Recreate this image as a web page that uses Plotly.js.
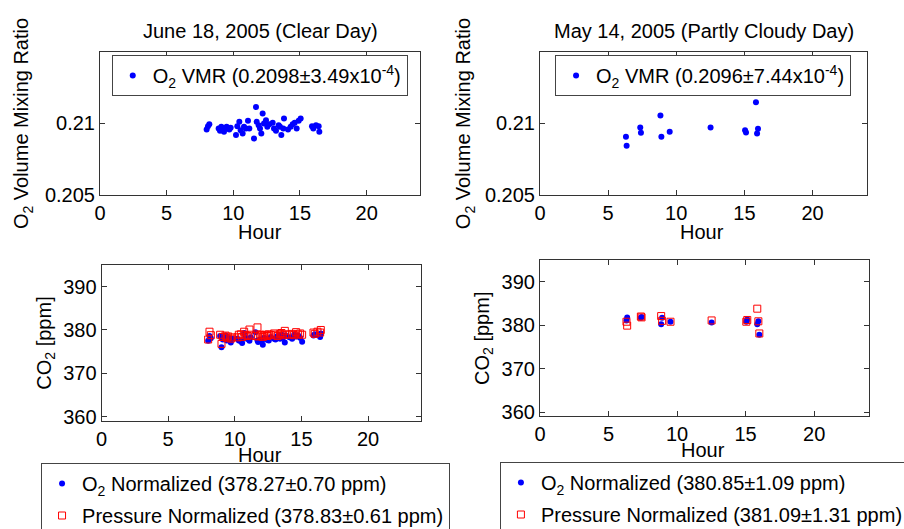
<!DOCTYPE html>
<html>
<head>
<meta charset="utf-8">
<script src="https://cdn.plot.ly/plotly-3.0.1.min.js"></script>
<style>html,body{margin:0;padding:0;background:#fff;}#chart{width:904px;height:529px;}</style>
</head>
<body>
<div id="chart"></div>
<script>
// ---------- DATA ----------
// June 18, 2005 (Clear Day)
const clearHours = [8.0, 8.1, 8.2, 8.9, 9.0, 9.1, 9.3, 9.4, 9.5, 9.7, 9.8, 10.2, 10.3, 10.45, 10.55, 10.7, 10.8, 10.95, 11.1, 11.2, 11.55, 11.7, 11.75, 11.9, 12.0, 12.1, 12.2, 12.3, 12.45, 12.55, 12.7, 12.95, 13.05, 13.2, 13.4, 13.5, 13.6, 13.75, 13.8, 14.1, 14.3, 14.45, 14.6, 14.75, 14.9, 15.05, 15.9, 16.0, 16.2, 16.4, 16.45];
const clearO2 = [0.20958, 0.20981, 0.20995, 0.20965, 0.20949, 0.20977, 0.20942, 0.20965, 0.20977, 0.20958, 0.20970, 0.20919, 0.20981, 0.21012, 0.20953, 0.20930, 0.20977, 0.20965, 0.21019, 0.20965, 0.20895, 0.21116, 0.21012, 0.20988, 0.20965, 0.20930, 0.21070, 0.21000, 0.21023, 0.20977, 0.20995, 0.21005, 0.20965, 0.20949, 0.20988, 0.20977, 0.20919, 0.20965, 0.21035, 0.20958, 0.20977, 0.20995, 0.21005, 0.20965, 0.21019, 0.21035, 0.20981, 0.20965, 0.20988, 0.20981, 0.20942];
const clearCO2O2 = [377.5, 378.6, 378.1, 378.6, 376.0, 377.8, 378.7, 377.6, 378.2, 377.1, 378.0, 378.0, 377.6, 377.4, 377.0, 379.3, 378.2, 377.9, 377.5, 378.3, 379.5, 377.6, 377.2, 377.8, 377.4, 376.6, 378.2, 377.9, 377.7, 377.6, 378.4, 378.0, 377.8, 378.6, 378.0, 378.9, 378.2, 377.1, 378.7, 378.3, 378.0, 378.9, 378.5, 378.7, 378.2, 377.3, 378.7, 379.0, 378.9, 378.4, 379.2];
const clearCO2P = [377.8, 379.6, 378.8, 378.9, 376.8, 378.4, 378.7, 378.2, 378.5, 378.0, 378.3, 378.3, 378.9, 379.0, 378.4, 379.6, 378.8, 378.6, 380.1, 378.9, 378.6, 380.6, 378.5, 378.9, 378.8, 378.4, 378.7, 378.9, 378.6, 379.0, 378.8, 379.2, 378.9, 378.6, 379.1, 379.3, 378.8, 379.8, 379.0, 378.9, 379.1, 378.8, 379.5, 379.0, 379.2, 378.9, 379.4, 379.1, 379.6, 379.4, 380.0];

// May 14, 2005 (Partly Cloudy Day)
const cloudyHours = [6.31, 6.36, 7.36, 7.41, 8.84, 8.91, 9.52, 12.52, 15.05, 15.12, 15.85, 15.93, 16.0];
const cloudyO2 = [0.20907, 0.20844, 0.20972, 0.20935, 0.21056, 0.20907, 0.20942, 0.20972, 0.20953, 0.20937, 0.21149, 0.20930, 0.20963];
const cloudyCO2O2 = [381.1, 381.8, 381.7, 381.9, 380.2, 381.7, 380.8, 380.6, 380.8, 381.3, 380.2, 380.9, 377.8];
const cloudyCO2P = [380.8, 379.9, 382.0, 381.8, 382.1, 381.0, 380.8, 381.1, 380.8, 381.2, 383.8, 380.9, 378.1];

// Labels
const panelTitles = ["June 18, 2005 (Clear Day)", "May 14, 2005 (Partly Cloudy Day)"];
const xTitle = "Hour";
const vmrTitle = "O<sub>2</sub> Volume Mixing Ratio";
const co2Title = "CO<sub>2</sub> [ppm]";
const o2VmrNames = ["O<sub>2</sub> VMR (0.2098±3.49x10<sup>-4</sup>)", "O<sub>2</sub> VMR (0.2096±7.44x10<sup>-4</sup>)"];
const o2NormNames = ["O<sub>2</sub> Normalized (378.27±0.70 ppm)", "O<sub>2</sub> Normalized (380.85±1.09 ppm)"];
const presNormNames = ["Pressure Normalized (378.83±0.61 ppm)", "Pressure Normalized (381.09±1.31 ppm)"];
const vmrTickVals = [0.205, 0.21];
const vmrTickText = ["0.205", "0.21"];
const co2TickVals = [360, 370, 380, 390];
const hourTickVals = [0, 5, 10, 15, 20];

// ---------- STYLE ----------
const FONT = "Liberation Sans, Arial, Helvetica, sans-serif";
const FS = 20;
const blueDot = {color: "#0000ff", size: 6, symbol: "circle"};
const redSq = {color: "#ff0000", size: 7, symbol: "square-open", line: {color: "#ff0000", width: 1}};

const traces = [
  {x: clearHours, y: clearO2, type: "scatter", mode: "markers", name: o2VmrNames[0], marker: blueDot, xaxis: "x", yaxis: "y", legend: "legend"},
  {x: cloudyHours, y: cloudyO2, type: "scatter", mode: "markers", name: o2VmrNames[1], marker: blueDot, xaxis: "x2", yaxis: "y2", legend: "legend2"},
  {x: clearHours, y: clearCO2O2, type: "scatter", mode: "markers", name: o2NormNames[0], marker: blueDot, xaxis: "x3", yaxis: "y3", legend: "legend3", legendgroup: "a"},
  {x: clearHours, y: clearCO2P, type: "scatter", mode: "markers", name: presNormNames[0], marker: redSq, xaxis: "x3", yaxis: "y3", legend: "legend3", legendgroup: "b"},
  {x: cloudyHours, y: cloudyCO2O2, type: "scatter", mode: "markers", name: o2NormNames[1], marker: blueDot, xaxis: "x4", yaxis: "y4", legend: "legend4", legendgroup: "c"},
  {x: cloudyHours, y: cloudyCO2P, type: "scatter", mode: "markers", name: presNormNames[1], marker: redSq, xaxis: "x4", yaxis: "y4", legend: "legend4", legendgroup: "d"}
];

function xax(domain, anchor) {
  return {domain: domain, anchor: anchor, range: [0, 24], tickmode: "array", tickvals: hourTickVals,
    showline: true, mirror: "ticks", linecolor: "#333", linewidth: 1, ticks: "inside", ticklen: 5, tickcolor: "#333",
    showgrid: false, zeroline: false, tickfont: {size: FS, color: "#000", family: FONT}};
}
function yax(domain, anchor, range, vals, text, title, standoff) {
  const a = {domain: domain, anchor: anchor, range: range, tickmode: "array", tickvals: vals,
    showline: true, mirror: "ticks", linecolor: "#333", linewidth: 1, ticks: "inside", ticklen: 5, tickcolor: "#333",
    showgrid: false, zeroline: false, tickfont: {size: FS, color: "#000", family: FONT},
    title: {text: title, font: {size: FS, color: "#000", family: FONT}, standoff: standoff}};
  if (text) a.ticktext = text;
  return a;
}
function leg(x, y, gap) {
  return {x: x, y: y, xref: "paper", yref: "paper", xanchor: "left", yanchor: "top", bgcolor: "#fff", bordercolor: "#444", borderwidth: 1,
    font: {size: FS, color: "#000", family: FONT}, tracegrouporder: "normal", tracegroupgap: gap, itemsizing: "trace"};
}
function note(text, px, py) {
  return {text: text, xref: "paper", yref: "paper", x: px / 904, y: 1 - py / 529, xanchor: "center", yanchor: "middle",
    showarrow: false, font: {size: FS, color: "#000", family: FONT}};
}

const layout = {
  width: 904, height: 529,
  margin: {l: 0, r: 0, t: 0, b: 0, autoexpand: false},
  paper_bgcolor: "#fff", plot_bgcolor: "#fff",
  font: {family: FONT, size: FS, color: "#000"},
  xaxis: xax([0.1106, 0.4646], "y"),
  yaxis: yax([0.6314, 0.9017], "x", [0.205, 0.215], vmrTickVals, vmrTickText, vmrTitle, 10),
  xaxis2: xax([0.5973, 0.9591], "y2"),
  yaxis2: yax([0.6314, 0.9017], "x2", [0.205, 0.215], vmrTickVals, vmrTickText, vmrTitle, 8),
  xaxis3: xax([0.1123, 0.4662], "y3"),
  yaxis3: yax([0.2042, 0.4991], "x3", [359, 395], co2TickVals, null, co2Title, 6),
  xaxis4: xax([0.5973, 0.9613], "y4"),
  yaxis4: yax([0.2127, 0.5085], "x4", [359, 395], co2TickVals, null, co2Title, 6),
  legend: leg(0.1236, 0.896, 2),
  legend2: leg(0.614, 0.896, 2),
  legend3: leg(0.0454, 1 - 463 / 529, 3),
  legend4: leg(0.553, 1 - 462 / 529, 3),
  annotations: [
    note(panelTitles[0], 260, 31),
    note(panelTitles[1], 703.5, 31),
    note(xTitle, 260, 232),
    note(xTitle, 702, 232),
    note(xTitle, 260, 455),
    note(xTitle, 703, 450)
  ],
  showlegend: true
};

Plotly.newPlot("chart", traces, layout, {displayModeBar: false, staticPlot: true});
</script>
</body>
</html>
